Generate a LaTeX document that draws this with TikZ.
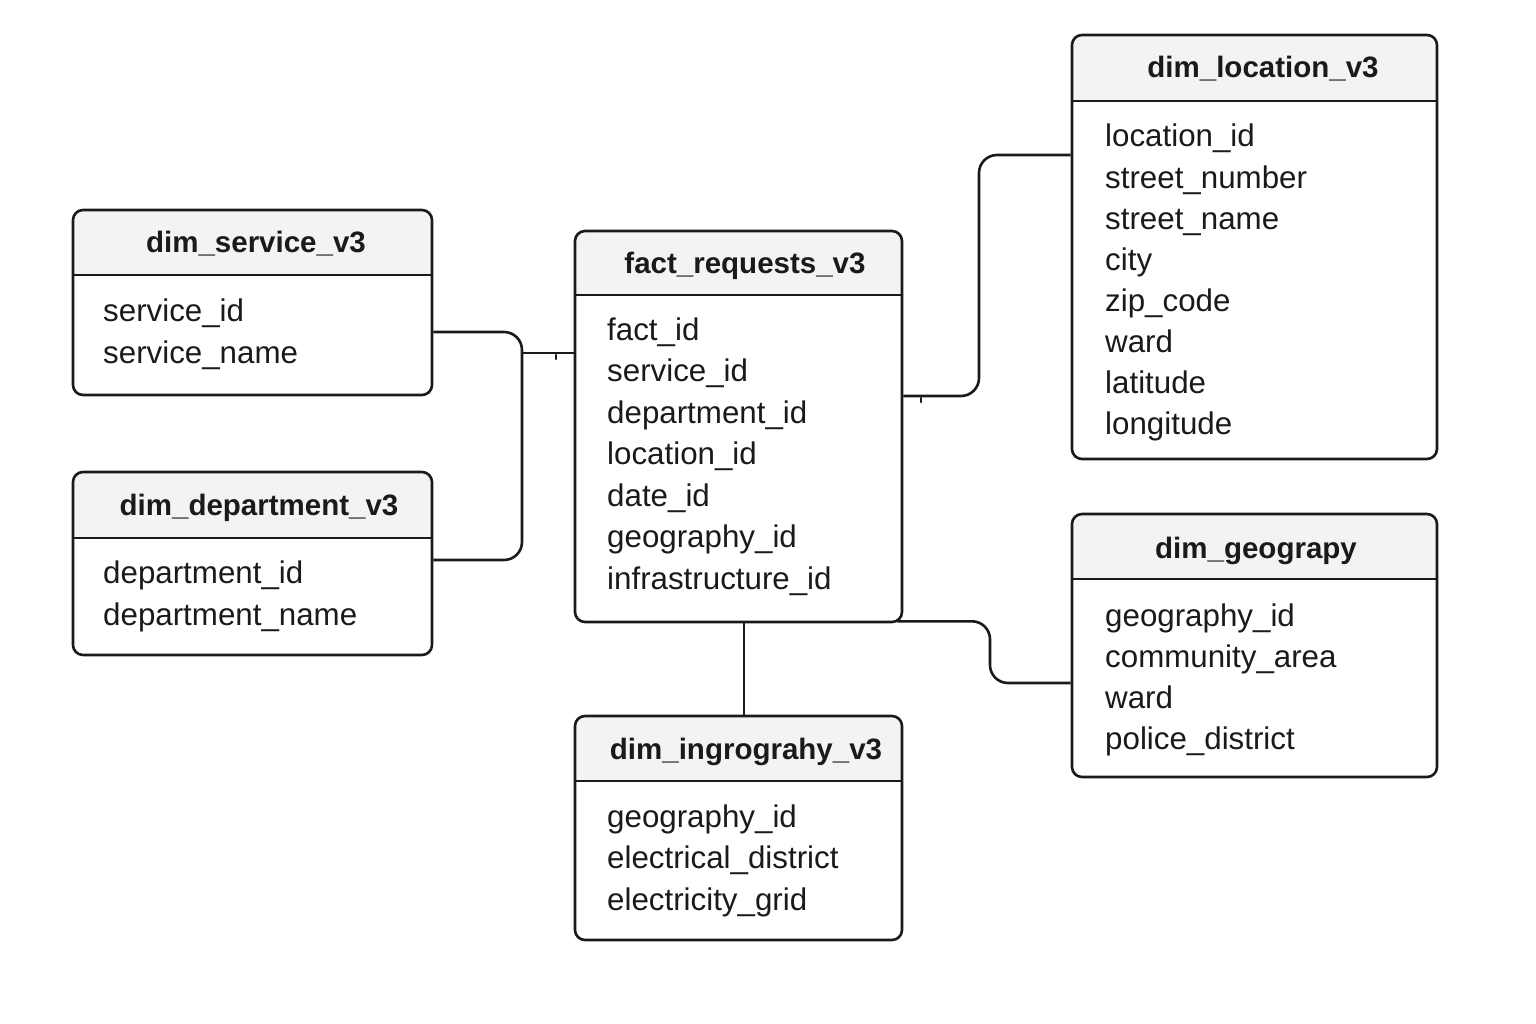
\documentclass[tikz,border=0pt]{standalone}
\usepackage{fontspec}
\setmainfont{Liberation Sans}
\usetikzlibrary{calc}
\definecolor{hdr}{HTML}{F3F3F3}
\definecolor{ink}{HTML}{1A1A1A}
\newcommand\ertbl[9]{%
  \begin{scope}
    \clip[rounded corners=10pt] (#2,#3) rectangle (#4,#5);
    \fill[hdr] (#2,#3) rectangle (#4,#6);
  \end{scope}
  \draw[ink, line width=2.6pt] (#2,#6) -- (#4,#6);
  \node[tblbox, minimum width={#4-#2}, minimum height={#5-#3}] (#1) at ({(#2+#4)/2},{(#3+#5)/2}) {};
  \node[ttl] (#1-title) at (#8,#9) {#7};
}
\newcommand\errows[5]{%
  \foreach \t [count=\i] in {#5} {\node[row] (#1-r\i) at (#2,{#3+(\i-1)*#4}) {\t};}
}
\begin{document}
\begin{tikzpicture}[x=1pt,y=-1pt,
  tblbox/.style={draw=ink, line width=2.6pt, rounded corners=10pt, inner sep=0pt},
  ttl/.style={font=\bfseries\fontsize{29.5}{34}\selectfont, text=ink, anchor=base, inner sep=0pt},
  row/.style={font=\fontsize{31.3}{36}\selectfont, text=ink, anchor=base west, inner sep=0pt},
  conn/.style={draw=ink, line width=2.6pt, rounded corners=18pt},
  tickmark/.style={draw=ink, line width=2.6pt, line cap=round}]
\fill[white] (0,0) rectangle (1536,1024);
\useasboundingbox (0,0) rectangle (1536,1024);

% tables
\ertbl{svc}{73}{210}{432}{395}{275}{dim\_service\_v3}{256}{253}
\errows{svc}{103}{321}{42}{service\_id,service\_name}

\ertbl{dep}{73}{472}{432}{655}{538}{dim\_department\_v3}{259}{515}
\errows{dep}{103}{583}{42}{department\_id,department\_name}

\ertbl{fact}{575}{231}{902}{622}{295}{fact\_requests\_v3}{745}{274}
\errows{fact}{607}{340}{41.5}{fact\_id,service\_id,department\_id,location\_id,date\_id,geography\_id,infrastructure\_id}

\ertbl{loc}{1072}{35}{1437}{459}{101}{dim\_location\_v3}{1263}{78}
\errows{loc}{1105}{147}{41.1}{location\_id,street\_number,street\_name,city,zip\_code,ward,latitude,longitude}

\ertbl{geo}{1072}{514}{1437}{777}{579}{dim\_geograpy}{1256}{558}
\errows{geo}{1105}{626}{41.3}{geography\_id,community\_area,ward,police\_district}

\ertbl{ing}{575}{716}{902}{940}{781}{dim\_ingrograhy\_v3}{746}{759}
\errows{ing}{607}{827}{41.5}{geography\_id,electrical\_district,electricity\_grid}

% connectors
\coordinate (j) at (522,353);
\coordinate (kd) at (522,560);
\draw[conn] ([yshift=-29.5pt]svc.east) -| (kd) -- ([yshift=3.5pt]dep.east);
\draw[conn] (j) -- ([yshift=73.5pt]fact.west);
\coordinate (t1) at (556,355);
\draw[tickmark] (t1) -- ++(0,4);

\coordinate (kl) at (979,155);
\draw[conn] ([yshift=30.5pt]fact.east) -| (kl) -- ([yshift=92pt]loc.west);
\coordinate (t2) at (921,398);
\draw[tickmark] (t2) -- ++(0,4);

\coordinate (kg) at (990,683);
\draw[conn] ([xshift=-6pt,yshift=2pt]fact.south east) -| (kg) -- ([yshift=-37.5pt]geo.west);

\draw[draw=ink, line width=2.6pt] ([xshift=5.5pt]fact.south) -- ([xshift=5.5pt]ing.north);
\end{tikzpicture}
\end{document}
